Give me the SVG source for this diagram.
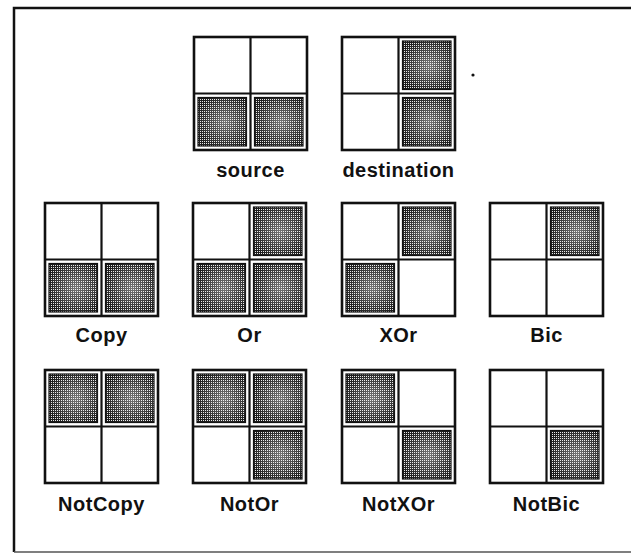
<svg xmlns="http://www.w3.org/2000/svg" xmlns:xlink="http://www.w3.org/1999/xlink" width="631" height="554" viewBox="0 0 631 554">
<style>
.frame{fill:none;stroke:#111;stroke-width:2.5}
.box{fill:#fff;stroke:#111;stroke-width:2.6}
.div{stroke:#111;stroke-width:2.2}
.sh{fill:url(#dither);stroke:#111;stroke-width:1.2}
.sheen{fill:url(#glow);stroke:none}
.lbl{font-family:"Liberation Sans",Arial,sans-serif;font-weight:bold;font-size:20px;fill:#111;text-anchor:middle;letter-spacing:0.5px}
</style>
<defs>
<pattern id="dither" width="2" height="2" patternUnits="userSpaceOnUse">
<rect width="2" height="2" fill="#1c1c1c"/>
<rect x="0" y="0" width="1" height="1" fill="#e8e8e8"/>
</pattern>
<radialGradient id="glow" cx="0.55" cy="0.5" r="0.6">
<stop offset="0" stop-color="#fff" stop-opacity="0.4"/>
<stop offset="1" stop-color="#fff" stop-opacity="0"/>
</radialGradient>
<g id="grid">
<rect class="box" x="0" y="0" width="113" height="113"/>
<line class="div" x1="56.5" y1="0" x2="56.5" y2="113"/>
<line class="div" x1="0" y1="56.5" x2="113" y2="56.5"/>
</g>
<g id="tl"><rect class="sh" x="4" y="4" width="48.5" height="48.5"/><rect class="sheen" x="4" y="4" width="48.5" height="48.5"/></g>
<g id="tr"><rect class="sh" x="60.5" y="4" width="48.5" height="48.5"/><rect class="sheen" x="60.5" y="4" width="48.5" height="48.5"/></g>
<g id="bl"><rect class="sh" x="4" y="60.5" width="48.5" height="48.5"/><rect class="sheen" x="4" y="60.5" width="48.5" height="48.5"/></g>
<g id="br"><rect class="sh" x="60.5" y="60.5" width="48.5" height="48.5"/><rect class="sheen" x="60.5" y="60.5" width="48.5" height="48.5"/></g>
</defs>
<rect width="631" height="554" fill="#fff"/>
<g id="frame">
<path class="frame" d="M14,552 L14,8 L631,8"/>
<line x1="14" y1="552" x2="631" y2="552" stroke="#555" stroke-width="1.6"/>
</g>
<circle cx="473" cy="75" r="1.6" fill="#111"/>

<g id="source" transform="translate(194,37)">
<use xlink:href="#grid"/><use xlink:href="#bl"/><use xlink:href="#br"/>
<text class="lbl" x="56.5" y="140">source</text>
</g>
<g id="destination" transform="translate(342,37)">
<use xlink:href="#grid"/><use xlink:href="#tr"/><use xlink:href="#br"/>
<text class="lbl" x="56.5" y="140">destination</text>
</g>

<g id="copy" transform="translate(45,203)">
<use xlink:href="#grid"/><use xlink:href="#bl"/><use xlink:href="#br"/>
<text class="lbl" x="56.5" y="139">Copy</text>
</g>
<g id="or" transform="translate(193,203)">
<use xlink:href="#grid"/><use xlink:href="#tr"/><use xlink:href="#bl"/><use xlink:href="#br"/>
<text class="lbl" x="56.5" y="139">Or</text>
</g>
<g id="xor" transform="translate(342,203)">
<use xlink:href="#grid"/><use xlink:href="#tr"/><use xlink:href="#bl"/>
<text class="lbl" x="56.5" y="139">XOr</text>
</g>
<g id="bic" transform="translate(490,203)">
<use xlink:href="#grid"/><use xlink:href="#tr"/>
<text class="lbl" x="56.5" y="139">Bic</text>
</g>

<g id="notcopy" transform="translate(45,370)">
<use xlink:href="#grid"/><use xlink:href="#tl"/><use xlink:href="#tr"/>
<text class="lbl" x="56.5" y="141">NotCopy</text>
</g>
<g id="notor" transform="translate(193,370)">
<use xlink:href="#grid"/><use xlink:href="#tl"/><use xlink:href="#tr"/><use xlink:href="#br"/>
<text class="lbl" x="56.5" y="141">NotOr</text>
</g>
<g id="notxor" transform="translate(342,370)">
<use xlink:href="#grid"/><use xlink:href="#tl"/><use xlink:href="#br"/>
<text class="lbl" x="56.5" y="141">NotXOr</text>
</g>
<g id="notbic" transform="translate(490,370)">
<use xlink:href="#grid"/><use xlink:href="#br"/>
<text class="lbl" x="56.5" y="141">NotBic</text>
</g>
</svg>
